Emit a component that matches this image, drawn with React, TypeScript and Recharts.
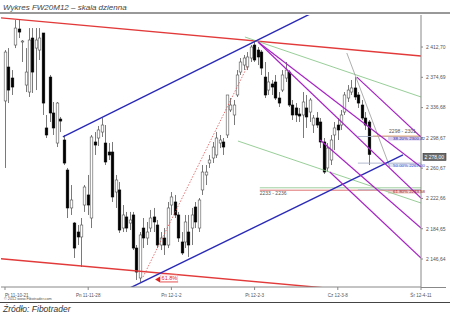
import React from 'react';
import {
  Bar,
  ComposedChart,
  ReferenceArea,
  ReferenceDot,
  ReferenceLine,
  XAxis,
  YAxis
} from 'recharts';

const FONT = '"Liberation Sans", Arial, sans-serif';

// session index of each labelled date on the time axis
const dateTicks = [0, 24, 48, 72, 96, 120];
const dateLabels = ['Pt 11-10-21', 'Pn 11-11-28', 'Pn 12-1-2', 'Pt 12-2-3', 'Cz 12-3-8', 'Śr 12-4-11'];

const priceTicks = [2146.64, 2184.65, 2222.66, 2260.67, 2298.67, 2336.68, 2374.69, 2412.7];

// FW20M12 daily sessions, 2011-10-21 .. 2012-04-11
const open = [
  2345.0, 2387.6, 2373.8, 2415.2, 2435.3, 2419.0, 2365.0, 2356.2, 2424.0, 2411.4,
  2408.9, 2430.3, 2311.1, 2375.0, 2329.9, 2292.2, 2322.3, 2296.0, 2258.3, 2210.7,
  2191.8, 2180.5, 2174.3, 2214.4, 2227.0, 2198.1, 2293.5, 2298.5, 2306.0, 2292.2,
  2280.9, 2280.9, 2230.7, 2233.3, 2185.5, 2199.4, 2191.8, 2201.9, 2160.4, 2122.8,
  2185.5, 2173.0, 2185.5, 2199.4, 2189.3, 2164.2, 2173.0, 2164.2, 2214.4, 2218.2,
  2201.9, 2168.0, 2168.0, 2180.5, 2185.5, 2211.9, 2185.5, 2233.3, 2252.1, 2267.1,
  2273.4, 2277.2, 2292.2, 2293.5, 2302.3, 2333.7, 2327.4, 2352.5, 2381.3, 2390.1,
  2387.6, 2398.9, 2415.2, 2408.9, 2406.4, 2375.0, 2358.7, 2366.3, 2368.8, 2348.7,
  2358.7, 2373.8, 2381.3, 2339.9, 2336.2, 2328.6, 2327.4, 2336.2, 2331.1, 2314.8,
  2323.6, 2318.6, 2293.5, 2260.9, 2270.9, 2302.3, 2314.8, 2314.8, 2331.1, 2348.7,
  2356.2, 2361.3, 2352.5, 2339.9, 2323.6, 2318.6
];
const high = [
  2408.9, 2411.4, 2383.8, 2446.6, 2446.6, 2421.5, 2411.4, 2436.5, 2436.5, 2436.5,
  2436.5, 2430.3, 2327.4, 2377.6, 2343.7, 2343.7, 2324.9, 2302.3, 2260.9, 2239.5,
  2193.1, 2189.3, 2198.1, 2239.5, 2252.1, 2302.3, 2306.0, 2313.6, 2323.6, 2314.8,
  2292.2, 2293.5, 2252.1, 2243.3, 2214.4, 2205.7, 2205.7, 2205.7, 2164.2, 2180.5,
  2198.1, 2193.1, 2208.2, 2210.7, 2195.6, 2180.5, 2185.5, 2218.2, 2230.7, 2227.0,
  2205.7, 2180.5, 2201.9, 2201.9, 2210.7, 2218.2, 2223.2, 2264.6, 2264.6, 2277.2,
  2293.5, 2306.0, 2302.3, 2298.5, 2352.5, 2348.7, 2346.2, 2383.8, 2398.9, 2402.7,
  2406.4, 2415.2, 2419.0, 2412.7, 2408.9, 2393.9, 2381.3, 2371.3, 2377.6, 2356.2,
  2383.8, 2393.9, 2383.8, 2346.2, 2342.4, 2336.2, 2356.2, 2352.5, 2348.7, 2327.4,
  2331.1, 2323.6, 2298.5, 2292.2, 2302.3, 2318.6, 2323.6, 2333.7, 2356.2, 2365.0,
  2371.3, 2375.0, 2356.2, 2346.2, 2331.1, 2321.1
];
const low = [
  2260.9, 2342.4, 2352.5, 2411.4, 2424.0, 2393.9, 2356.2, 2350.0, 2355.0, 2358.7,
  2396.4, 2327.4, 2298.5, 2318.6, 2302.3, 2287.2, 2306.0, 2264.6, 2198.1, 2201.9,
  2147.9, 2164.2, 2136.6, 2205.7, 2201.9, 2185.5, 2277.2, 2288.5, 2299.8, 2264.6,
  2270.9, 2218.2, 2210.7, 2179.3, 2180.5, 2180.5, 2183.0, 2157.9, 2120.3, 2117.8,
  2160.4, 2164.2, 2180.5, 2180.5, 2160.4, 2157.9, 2151.7, 2160.4, 2201.9, 2198.1,
  2168.0, 2151.7, 2160.4, 2149.2, 2164.2, 2185.5, 2180.5, 2227.0, 2239.5, 2260.9,
  2267.1, 2273.4, 2285.9, 2277.2, 2298.5, 2331.1, 2314.8, 2350.0, 2377.6, 2383.8,
  2383.8, 2393.9, 2393.9, 2390.1, 2377.6, 2348.7, 2352.5, 2352.5, 2346.2, 2337.4,
  2356.2, 2368.8, 2337.4, 2321.1, 2318.6, 2318.6, 2298.5, 2311.1, 2318.6, 2304.8,
  2311.1, 2285.9, 2253.3, 2255.8, 2264.6, 2283.4, 2296.0, 2308.6, 2327.4, 2343.7,
  2352.5, 2346.2, 2336.2, 2321.1, 2308.6, 2264.6
];
const close = [
  2406.4, 2358.7, 2362.5, 2436.5, 2431.5, 2420.2, 2381.3, 2421.5, 2381.3, 2421.5,
  2424.0, 2342.4, 2302.3, 2329.9, 2311.1, 2342.4, 2319.8, 2267.1, 2210.7, 2220.7,
  2160.4, 2174.3, 2189.3, 2237.0, 2214.4, 2299.8, 2289.7, 2308.6, 2314.8, 2268.4,
  2277.2, 2224.5, 2245.8, 2183.0, 2201.9, 2185.5, 2195.6, 2160.4, 2130.3, 2176.8,
  2173.0, 2180.5, 2198.1, 2193.1, 2164.2, 2173.0, 2164.2, 2210.7, 2224.5, 2201.9,
  2173.0, 2154.2, 2193.1, 2164.2, 2201.9, 2193.1, 2220.7, 2255.8, 2255.8, 2270.9,
  2287.2, 2298.5, 2296.0, 2287.2, 2352.5, 2339.9, 2339.9, 2377.6, 2393.9, 2398.9,
  2400.2, 2412.7, 2396.4, 2400.2, 2386.3, 2352.5, 2368.8, 2362.5, 2348.7, 2342.4,
  2377.6, 2383.8, 2339.9, 2327.4, 2327.4, 2326.1, 2343.7, 2324.9, 2346.2, 2323.6,
  2314.8, 2293.5, 2255.8, 2285.9, 2296.0, 2311.1, 2308.6, 2327.4, 2352.5, 2358.7,
  2361.3, 2350.0, 2342.4, 2323.6, 2314.8, 2278.0
];

// trend lines as [session, price] anchor pairs
type Seg = number[][];
const redChannel: Seg[] = [
  [[-1.15, 2449.3], [120, 2401.4]],
  [[-1.15, 2146.9], [95, 2109.3]]
];
const blueChannel: Seg[] = [
  [[16.7, 2299.8], [90, 2458.5]],
  [[35, 2108.1], [114.8, 2277.2]]
];
const greenLines: Seg[] = [
  [[69.2, 2425.3], [120, 2350.0]],
  [[67.2, 2294.7], [120, 2216.9]]
];
const pitchfork: Seg[] = [
  [[73, 2419], [120, 2262.1]],
  [[73, 2419], [120, 2223.2]],
  [[101.5, 2375], [120, 2299.8]],
  [[90.9, 2296], [120, 2185.5]],
  [[93.7, 2255.8], [120, 2147.9]]
];
const rallyLine: Seg = [[39.8, 2124.0], [70.1, 2390.1]];
const greyLine: Seg = [[98.6, 2405.2], [111.0, 2262.1]];

// support / resistance zones
const lowerZone = [2233, 2236];
const upperZone = [2298, 2301];

// retracement of the Dec-Feb swing
const fibSwing = [2125.4, 2408.6];
const fibRatios = [0.382, 0.5, 0.618];
const fibFill = ['#d9cdf2', '#dfe5f3', '#f2d4d4'];
const fibText = ['#2a2a9a', '#3b4fd0', '#a01818'];

const data = open.map((o, i) => ({
  i,
  o,
  h: high[i],
  l: low[i],
  c: close[i],
  range: [low[i], high[i]]
}));

const fibLevels = fibRatios.map((r) => fibSwing[1] - r * (fibSwing[1] - fibSwing[0]));

function fmtPrice(v: number): string {
  const th = Math.floor(v / 1000);
  const rest = (v - th * 1000).toFixed(2).padStart(6, '0').replace('.', ',');
  return `${th} ${rest}`;
}

function Candle(props: any) {
  const { x, y, width, height, payload } = props;
  if (!payload || height == null) return null;
  const { o, h, l, c } = payload;
  const k = height / (h - l);
  const py = (v: number) => y + (h - v) * k;
  const cx = Math.round(x + width / 2) + 0.5;
  const top = py(Math.max(o, c));
  const bot = py(Math.min(o, c));
  const up = c >= o;
  return (
    <g>
      <line x1={cx} x2={cx} y1={y} y2={y + height} stroke="#7a7a7a" strokeWidth={1} />
      <rect
        x={cx - 1.3}
        y={top}
        width={2.6}
        height={Math.max(bot - top, 0.8)}
        fill={up ? '#ffffff' : '#000000'}
        stroke={up ? '#555555' : '#000000'}
        strokeWidth={0.6}
      />
    </g>
  );
}

function DateTick(props: any) {
  const { x, y, payload } = props;
  const idx = dateTicks.indexOf(payload.value);
  return (
    <text
      x={x}
      y={y + 5}
      textAnchor={idx === 0 ? 'start' : 'middle'}
      fontSize={4.6}
      fill="#555"
      fontFamily={FONT}
    >
      {dateLabels[idx]}
    </text>
  );
}

function PriceTick(props: any) {
  const { x, y, payload } = props;
  return (
    <text x={x + 1} y={y + 1.8} fontSize={5} fill="#555" fontFamily={FONT}>
      {fmtPrice(payload.value)}
    </text>
  );
}

const seg = (s: Seg) => [
  { x: s[0][0], y: s[0][1] },
  { x: s[1][0], y: s[1][1] }
];

const note = (text: string, color: string, size = 5) => (p: any) => (
  <text x={p.cx} y={p.cy} fontSize={size} fill={color} fontFamily={FONT}>
    {text}
  </text>
);

export default function App(): React.ReactElement {
  const last = close[close.length - 1];
  return (
    <div style={{ position: 'absolute', left: 0, top: 0, width: 450, height: 314, background: '#fff' }}>
      <ComposedChart
        width={450}
        height={314}
        data={data}
        margin={{ top: 15, right: 0, bottom: 15, left: 1 }}
      >
        <XAxis
          type="number"
          dataKey="i"
          domain={[-1.15, 120]}
          ticks={dateTicks}
          interval={0}
          allowDataOverflow
          height={12}
          tickSize={3}
          stroke="#888"
          tick={<DateTick />}
        />
        <YAxis
          orientation="right"
          domain={[2111.5, 2452.9]}
          ticks={priceTicks}
          interval={0}
          allowDataOverflow
          width={29}
          tickSize={2}
          stroke="#888"
          tick={<PriceTick />}
        />

        {redChannel.map((s, k) => (
          <ReferenceLine key={`r${k}`} segment={seg(s)} stroke="#e23a3a" strokeWidth={1.4} ifOverflow="hidden" />
        ))}
        {greenLines.map((s, k) => (
          <ReferenceLine key={`g${k}`} segment={seg(s)} stroke="#8cc88c" strokeWidth={0.9} ifOverflow="hidden" />
        ))}
        <ReferenceLine segment={seg(rallyLine)} stroke="#e05050" strokeWidth={0.8} strokeDasharray="1.5 1.5" ifOverflow="hidden" />
        <ReferenceLine segment={seg(greyLine)} stroke="#999" strokeWidth={0.8} ifOverflow="hidden" />

        <ReferenceLine segment={[{ x: 73.5, y: lowerZone[1] }, { x: 120, y: lowerZone[1] }]} stroke="#9fcf9f" strokeWidth={1} />
        <ReferenceLine segment={[{ x: 73.5, y: lowerZone[0] }, { x: 120, y: lowerZone[0] }]} stroke="#e07070" strokeWidth={1} />
        <ReferenceDot x={73.5} y={lowerZone[0] - 6} r={0} shape={note(`${lowerZone[0]} - ${lowerZone[1]}`, '#555')} />

        {fibLevels.map((v, k) => (
          <ReferenceLine key={`fl${k}`} segment={[{ x: 101.8, y: v }, { x: 120, y: v }]} stroke="#a9b3c8" strokeWidth={0.9} />
        ))}
        {fibLevels.map((v, k) => (
          <ReferenceArea
            key={`fa${k}`}
            x1={110.5}
            x2={120}
            y1={v - 5}
            y2={v}
            fill={fibFill[k]}
            fillOpacity={1}
            stroke="none"
            label={{
              value: `${(fibRatios[k] * 100).toFixed(2)}% ${v.toFixed(2)}`,
              position: 'insideLeft',
              fontSize: 4.4,
              fill: fibText[k],
              fontFamily: FONT
            }}
          />
        ))}
        <ReferenceLine segment={[{ x: 106.1, y: upperZone[1] }, { x: 120, y: upperZone[1] }]} stroke="#e8a070" strokeWidth={0.9} />
        <ReferenceDot x={110.8} y={upperZone[1] + 4} r={0} shape={note(`${upperZone[0]} - ${upperZone[1]}`, '#555')} />

        <Bar dataKey="range" shape={Candle} barSize={3} isAnimationActive={false} />

        {blueChannel.map((s, k) => (
          <ReferenceLine key={`b${k}`} segment={seg(s)} stroke="#2a2ab8" strokeWidth={1.4} ifOverflow="hidden" />
        ))}
        {pitchfork.map((s, k) => (
          <ReferenceLine key={`p${k}`} segment={seg(s)} stroke="#a624c4" strokeWidth={1.2} ifOverflow="hidden" />
        ))}

        <ReferenceDot
          x={43.3}
          y={2121}
          r={0}
          ifOverflow="visible"
          shape={(p: any) => (
            <g>
              <polygon points={`${p.cx},${p.cy} ${p.cx + 5},${p.cy - 3} ${p.cx + 5},${p.cy + 3}`} fill="#e02020" />
              <line x1={p.cx + 5} x2={p.cx + 23} y1={p.cy + 2.5} y2={p.cy + 2.5} stroke="#e02020" strokeWidth={0.8} />
              <rect x={p.cx + 5.5} y={p.cy - 4.5} width={17} height={6.5} fill="none" stroke="#f0a0a0" strokeWidth={0.5} />
              <text x={p.cx + 6.5} y={p.cy + 0.8} fontSize={5.5} fill="#e02020" fontFamily={FONT}>
                61.8%
              </text>
            </g>
          )}
        />
        <ReferenceDot
          x={120}
          y={last}
          r={0}
          ifOverflow="visible"
          shape={(p: any) => (
            <g>
              <rect x={p.cx + 2} y={p.cy - 1} width={23} height={7} fill="#6b6b6b" stroke="#333" strokeWidth={0.6} />
              <text x={p.cx + 3.5} y={p.cy + 4.2} fontSize={5} fill="#fff" fontFamily={FONT}>
                {fmtPrice(last)}
              </text>
            </g>
          )}
        />
      </ComposedChart>

      <svg width={450} height={314} style={{ position: 'absolute', left: 0, top: 0, pointerEvents: 'none' }}>
        <text x={3} y={10} fontSize={8} fontStyle="italic" fill="#444" fontFamily={FONT}>
          Wykres FW20M12 – skala dzienna
        </text>
        <line x1={0} x2={450} y1={13} y2={13} stroke="#333" strokeWidth={1} />
        <line x1={421} x2={446} y1={287.5} y2={287.5} stroke="#888" strokeWidth={1} />
        <text x={4} y={299.5} fontSize={3.8} fill="#555" fontFamily={FONT}>
          © 2012 www.Fibotrader.com
        </text>
        <line x1={0} x2={450} y1={302.5} y2={302.5} stroke="#444" strokeWidth={1} />
        <text x={3} y={312} fontSize={8.5} fontStyle="italic" fill="#333" fontFamily={FONT}>
          Źródło: Fibotrader
        </text>
      </svg>
    </div>
  );
}
